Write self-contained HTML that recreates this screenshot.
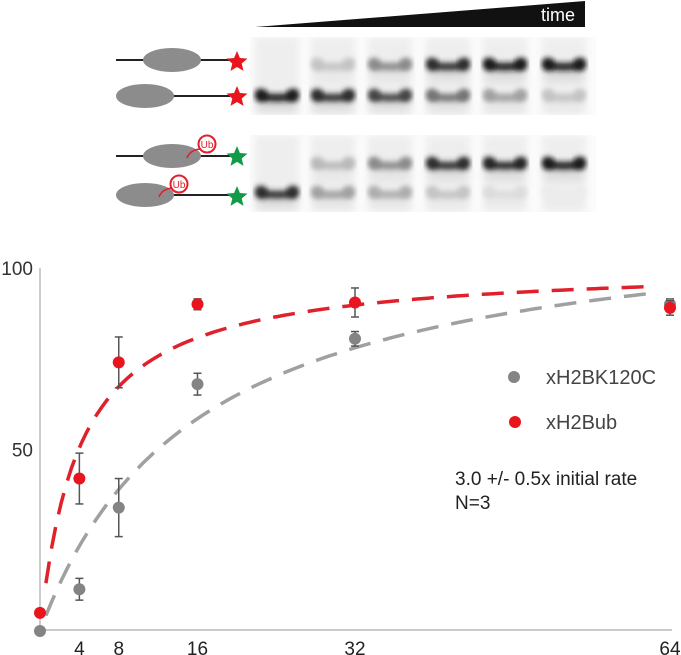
<!DOCTYPE html>
<html><head><meta charset="utf-8">
<style>
html,body{margin:0;padding:0;background:#fff;}
svg{display:block;font-family:"Liberation Sans",Arial,sans-serif;}
</style></head>
<body>
<svg id="fig" width="681" height="655" viewBox="0 0 681 655">
<defs>
<filter id="blur" x="-20%" y="-80%" width="140%" height="260%"><feGaussianBlur stdDeviation="3"/></filter>
<filter id="blur2" x="-20%" y="-50%" width="140%" height="200%"><feGaussianBlur stdDeviation="4"/></filter>
<clipPath id="clipTop"><rect x="250" y="37" width="346" height="78"/></clipPath>
<clipPath id="clipBot"><rect x="250" y="135" width="346" height="77"/></clipPath>
</defs>

<g>
<polygon points="255,27 585,1 585,27" fill="#111"/>
<text x="575" y="21" fill="#fff" font-size="18" text-anchor="end">time</text>
</g>

<g>
<g>
<line x1="116" y1="60" x2="230" y2="60" stroke="#222" stroke-width="2"/>
<ellipse cx="172" cy="60" rx="29" ry="12" fill="#8c8c8d"/>
</g>
<g>
<line x1="145" y1="96" x2="230" y2="96" stroke="#222" stroke-width="2"/>
<ellipse cx="145" cy="96" rx="29" ry="12" fill="#8c8c8d"/>
</g>
<g>
<line x1="116" y1="156" x2="230" y2="156" stroke="#222" stroke-width="2"/>
<ellipse cx="172" cy="156" rx="29" ry="12" fill="#8c8c8d"/>
<path d="M187,158 Q190,150 200,149" fill="none" stroke="#e0202a" stroke-width="1.6"/>
<circle cx="207" cy="144" r="8.5" fill="#fff" stroke="#e0202a" stroke-width="2"/>
<text x="207" y="148" font-size="10" fill="#e0202a" text-anchor="middle">Ub</text>
</g>
<g>
<line x1="145" y1="195" x2="230" y2="195" stroke="#222" stroke-width="2"/>
<ellipse cx="145" cy="195" rx="29" ry="12" fill="#8c8c8d"/>
<path d="M159,197 Q162,189 172,188" fill="none" stroke="#e0202a" stroke-width="1.6"/>
<circle cx="179" cy="184" r="8.5" fill="#fff" stroke="#e0202a" stroke-width="2"/>
<text x="179" y="188" font-size="10" fill="#e0202a" text-anchor="middle">Ub</text>
</g>
<g id="stars"></g>
</g>

<g id="gelTop" clip-path="url(#clipTop)"></g>
<g id="gelBot" clip-path="url(#clipBot)"></g>

<g id="chart"></g>
</svg>
<script>
// ---- chart data ----
var timePoints = [0, 4, 8, 16, 32, 64];
var xTickLabels = [4, 8, 16, 32, 64];
var yTickLabels = [50, 100];
var unmodValues = [0, 11.5, 34, 68, 80.5, 90];
var unmodErrors = [0.5, 3, 8, 3, 2, 1.5];
var ubValues = [5, 42, 74, 90, 90.5, 89];
var ubErrors = [1, 7, 7, 1.5, 4, 2];
var unmodFit = [117, 16];   // [Vmax, K] hyperbolic fit
var ubFit = [101, 4];
// gel band intensities (lanes 1-6)
var gelTopUpper = [0, 0.25, 0.5, 0.9, 1, 1];
var gelTopLower = [1, 0.9, 0.8, 0.6, 0.4, 0.25];
var gelBotUpper = [0, 0.3, 0.5, 0.9, 0.95, 1];
var gelBotLower = [0.9, 0.4, 0.35, 0.25, 0.15, 0.08];

var NS = "http://www.w3.org/2000/svg";
function mk(tag, attrs, parent){var e=document.createElementNS(NS,tag);for(var k in attrs)e.setAttribute(k,attrs[k]);parent.appendChild(e);return e;}
function xs(t){return 40 + t*(670-40)/64;}
function ys(v){return 631 - v*(631-268)/100;}

var chart = document.getElementById('chart');
var ya = mk('line',{x1:40,y1:268,x2:40,y2:631,stroke:'#aaa','stroke-width':1.2},chart);


var xa = mk('line',{x1:40,y1:630,x2:672,y2:630,stroke:'#aaa','stroke-width':1.2},chart);


yTickLabels.forEach(function(v){
  var t = mk('text',{x:33,y:ys(v)+7,'font-size':19,fill:'#333','text-anchor':'end'},chart);
  t.textContent = v;
  
  
});
xTickLabels.forEach(function(v){
  var t = mk('text',{x:xs(v),y:655,'font-size':19,fill:'#222','text-anchor':'middle'},chart);
  t.textContent = v;
  
  
});
function curve(fit){
  var d='';
  for(var i=0;i<=120;i++){var t=i*62/120+0.6;var v=fit[0]*t/(fit[1]+t);d+=(i?'L':'M')+xs(t).toFixed(1)+','+ys(v).toFixed(1);}
  return d;
}
var cg = mk('path',{d:curve(unmodFit),fill:'none',stroke:'#a0a0a0','stroke-width':3.5,'stroke-dasharray':'22,13'},chart);


var cr = mk('path',{d:curve(ubFit),fill:'none',stroke:'#e0202a','stroke-width':3.5,'stroke-dasharray':'22,13'},chart);


function series(vals, errs, color, name){
  timePoints.forEach(function(t,i){
    var x=xs(t), y=ys(vals[i]), e=errs[i];
    var g = mk('g',{},chart);
    
    
    mk('line',{x1:x,y1:ys(vals[i]+e),x2:x,y2:ys(vals[i]-e),stroke:'#555','stroke-width':1.5},g);
    mk('line',{x1:x-4,y1:ys(vals[i]+e),x2:x+4,y2:ys(vals[i]+e),stroke:'#555','stroke-width':1.5},g);
    mk('line',{x1:x-4,y1:ys(vals[i]-e),x2:x+4,y2:ys(vals[i]-e),stroke:'#555','stroke-width':1.5},g);
    mk('circle',{cx:x,cy:y,r:6,fill:color},g);
  });
}
series(unmodValues, unmodErrors, '#848486', 'unmod');
series(ubValues, ubErrors, '#e8141e', 'ub');
var lg = mk('g',{},chart);


mk('circle',{cx:514,cy:377,r:6,fill:'#848486'},lg);
var l1 = mk('text',{x:546,y:384,'font-size':20,fill:'#444'},lg); l1.textContent='xH2BK120C';


mk('circle',{cx:515,cy:422,r:6,fill:'#e8141e'},lg);
var l2 = mk('text',{x:546,y:429,'font-size':20,fill:'#444'},lg); l2.textContent='xH2Bub';


var a1 = mk('text',{x:455,y:485,'font-size':19,fill:'#222'},chart); a1.textContent='3.0 +/- 0.5x initial rate';


var a2 = mk('text',{x:455,y:509,'font-size':19,fill:'#222'},chart); a2.textContent='N=3';



function star(cx,cy,r,color){
  var p=[];for(var i=0;i<10;i++){var a=-Math.PI/2+i*Math.PI/5;var rr=i%2?r*0.45:r;p.push((cx+rr*Math.cos(a)).toFixed(1)+','+(cy+rr*Math.sin(a)).toFixed(1));}
  var s = mk('polygon',{points:p.join(' '),fill:color},document.getElementById('stars'));
  
  
}
star(237,62,11,'#e8141e');star(237,97,11,'#e8141e');star(237,157,11,'#119a48');star(237,197,11,'#119a48');

var laneX = [255, 311, 368, 426, 483, 542];
function gel(id, y0, h, upY, loY, up, lo){
  var g=document.getElementById(id);
  mk('rect',{x:250,y:y0,width:346,height:h,fill:'#fbfbfb'},g);
  laneX.forEach(function(x,i){
    var lane = mk('g',{},g);
    
    
    mk('rect',{x:x,y:y0,width:44,height:h,fill:'#eeeeee',filter:'url(#blur2)'},lane);
    [[upY,up[i]],[loY,lo[i]]].forEach(function(b){
      if(b[1]<=0.02)return;
      var gv=Math.round(255-235*b[1]);
      var c='rgb('+gv+','+gv+','+gv+')';
      mk('path',{d:'M'+(x+3)+','+(b[0]-5)+' Q'+(x+22)+','+(b[0]+1)+' '+(x+41)+','+(b[0]-5)+' L'+(x+41)+','+(b[0]+4)+' Q'+(x+22)+','+(b[0]+7)+' '+(x+3)+','+(b[0]+4)+' Z',fill:c,filter:'url(#blur)'},lane);
      mk('ellipse',{cx:x+6,cy:b[0]-1,rx:6,ry:6,fill:c,filter:'url(#blur)'},lane);
      mk('ellipse',{cx:x+38,cy:b[0]-1,rx:6,ry:6,fill:c,filter:'url(#blur)'},lane);
      mk('rect',{x:x+2,y:b[0]+4,width:40,height:12,fill:'rgba(0,0,0,'+(0.08*b[1])+')',filter:'url(#blur2)'},lane);
    });
  });
}
gel('gelTop',37,78,65,96,gelTopUpper,gelTopLower);
gel('gelBot',135,77,164,193,gelBotUpper,gelBotLower);
</script>
</body></html>
